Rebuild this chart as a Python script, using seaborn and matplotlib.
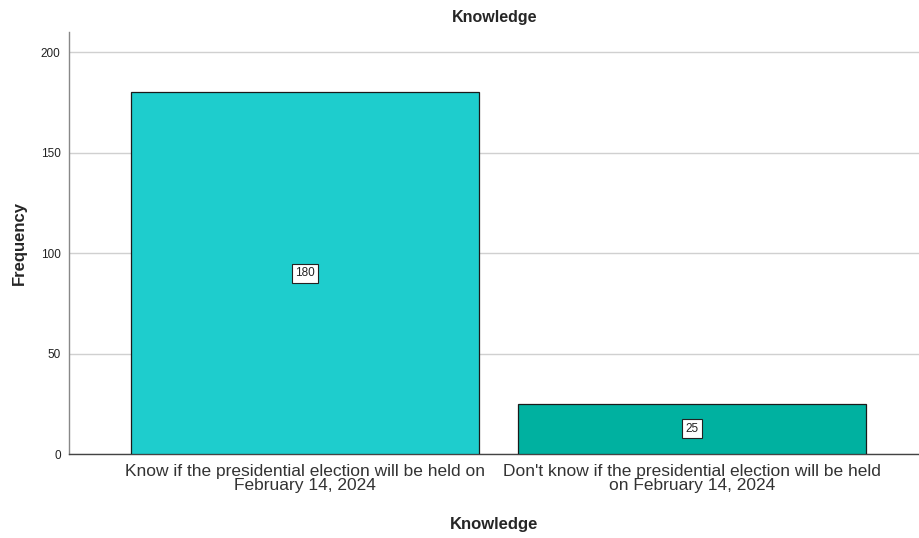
import matplotlib
matplotlib.use("Agg")
import matplotlib.pyplot as plt
import pandas as pd
import seaborn as sns

categories = [
    "Know if the presidential election will be held on\nFebruary 14, 2024",
    "Don't know if the presidential election will be held\non February 14, 2024",
]
frequencies = [180, 25]
bar_colors = ["#1ECDCD", "#00B1A0"]
y_ticks = [0, 50, 100, 150, 200]

df = pd.DataFrame({"knowledge": categories, "frequency": frequencies})

sns.set_style("white")
plt.rcParams["font.family"] = ["Liberation Sans", "DejaVu Sans"]

fig = plt.figure(figsize=(9.2, 5.38), dpi=100)
ax = fig.add_axes([0.075, 0.156, 0.925, 0.7845])

sns.barplot(
    data=df,
    x="knowledge",
    y="frequency",
    hue="knowledge",
    palette=bar_colors,
    saturation=1,
    width=0.9,
    edgecolor="#1a1a1a",
    linewidth=0.9,
    legend=False,
    ax=ax,
    zorder=3,
)

for i, v in enumerate(frequencies):
    ax.text(
        i, v / 2, str(v),
        ha="center", va="center", fontsize=8.5, color="#222222", zorder=5,
        bbox=dict(boxstyle="square,pad=0.3", facecolor="white", edgecolor="#222222", linewidth=0.8),
    )

ax.set_xlim(-0.61, 1.59)
ax.set_ylim(0, 210)
ax.set_yticks(y_ticks)
ax.yaxis.grid(True, color="#d0d0d0", linewidth=1.0, zorder=0)
ax.set_axisbelow(True)

for side in ["top", "right"]:
    ax.spines[side].set_visible(False)
ax.spines["left"].set_color("#888888")
ax.spines["bottom"].set_color("#444444")
ax.spines["left"].set_linewidth(1.0)
ax.spines["bottom"].set_linewidth(1.0)

ax.tick_params(axis="y", labelsize=8.5, length=0, pad=6, colors="#222222")
ax.tick_params(axis="x", labelsize=12.5, length=0, pad=7, colors="#333333")
for lbl in ax.get_xticklabels():
    lbl.set_linespacing(0.95)

ax.set_title("Knowledge", fontsize=11.5, fontweight="bold", pad=7)
ax.set_xlabel("Knowledge", fontsize=12, fontweight="bold", labelpad=17)
ax.set_ylabel("Frequency", fontsize=12, fontweight="bold", labelpad=10)

fig.savefig("out.png", dpi=100)
